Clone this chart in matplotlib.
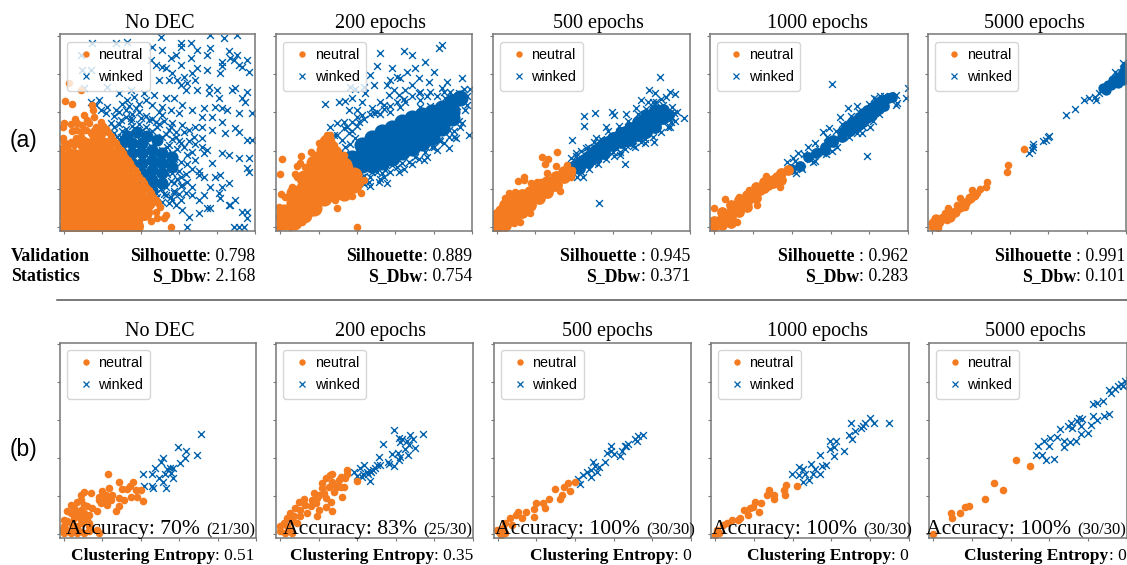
import matplotlib
matplotlib.use("Agg")
import matplotlib.pyplot as plt
from matplotlib.lines import Line2D

W, H = 1127, 565
ORANGE, BLUE = "#F47B20", "#0062AD"
SERIF, SANS = "Liberation Serif", "Liberation Sans"

epochs = ["No DEC", "200 epochs", "500 epochs", "1000 epochs", "5000 epochs"]

# *_core: the solid part of a cloud, where single marks can no longer be told apart.
a1_neutral_core = [(10,5),(45,5),(80,5),(115,5),(150,5),(185,5),(212,5),(5,40),(40,40),(75,40),(110,40),(145,40),(180,40),(215,40),(240,45),
(5,75),(40,75),(75,75),(110,75),(145,75),(180,75),(215,75),(250,75),(5,110),(40,110),(75,110),(110,110),(145,110),(180,110),(222,110),
(5,145),(40,145),(75,145),(110,145),(145,145),(180,145),(200,145),(5,180),(40,180),(75,180),(110,180),(145,180),(175,180),(5,198),
(30,210),(65,210),(100,210),(130,210),(150,210),(65,245),(95,245),(125,245),(100,280)]
a1_neutral = [(112,315),(118,305),(126,295),(132,285),(140,275),(148,262),(155,252),(162,242),(170,232),(177,222),(184,212),(191,202),(198,192),(205,182),(212,172),(219,162),(226,152),(233,142),(240,132),(247,122),(254,112),(261,102),(268,92),(275,82),(282,72),(288,62),
(3,378),(25,370),(85,367),(87,352),(90,330),(60,337),(70,322),(33,324),(40,312),(0,312),(-3,302),(20,309),(55,307),(75,312),(23,290),(35,292),(50,287),(65,292),(-3,267),(0,257),(20,257),(35,267),(50,272),(80,282),(95,302),(10,242),(30,247),(45,252),(60,262),(-5,237),(-5,222),(15,228),
(15,432),(50,412),(280,27),(300,27),(320,0),(305,37),(245,37),(275,47),(220,2),(225,22),(195,-3),(262,20)]
a1_winked_core = [(175,252),(175,222),(205,252),(205,222),(205,192),(205,162),(235,252),(235,222),(235,192),(235,162),(235,132),(265,232),(265,202),(265,172),(265,142),(265,112),(295,222),(295,192),(295,162),(295,132),(325,212),(325,182),(190,275),(220,285),(250,275),(280,262)]
a1_winked = [(290,570),(350,554),(380,554),(265,542),(295,532),(400,532),(350,542),(440,577),(480,567),(520,577),(495,530),(520,517),(500,507),(510,502),(475,497),(475,484),(550,502),(525,487),(440,537),(430,517),(380,507),(335,517),(320,507),(260,502),(275,487),(295,482),(350,487),(385,462),(400,477),(470,462),(430,472),(535,482),(555,467),(360,452),(325,462),(305,477),(285,442),(315,442),(340,442),(370,432),(395,442),(350,427),(435,422),(460,412),(505,412),(550,407),(515,417),(305,387),(330,387),(365,412),(400,412),(435,402),(465,387),(535,387),(545,377),(355,367),(385,352),(420,357),(455,362),(490,352),(525,342),(565,342),(475,357),(415,332),(445,332),(475,317),(515,297),(525,287),(550,262),(565,262),(485,282),(445,292),(415,302),(395,302),(375,292),(345,342),(320,352),(295,362),(270,397),(240,402),(200,412),(165,402),(210,392),(190,382),(105,382),(80,377),(130,362),(155,352),(185,352),(215,357),(245,382),(265,367),(295,337),(325,312),(355,307),(390,272),(415,267),(430,232),(420,222),(475,222),(495,217),(525,207),(555,207),(445,192),(395,202),(370,217),(350,252),(335,272),(315,292),(280,302),(255,322),(230,327),(200,327),(170,322),(140,312),(125,342),(110,352),(95,367),
(150,282),(170,272),(195,282),(220,292),(245,282),(275,262),(295,272),(315,247),(295,232),(265,237),(240,247),(215,257),(185,247),(170,247),(190,227),(215,232),(240,222),(265,212),(285,207),(305,217),(325,222),(200,207),(225,187),(250,197),(275,187),(300,192),(320,197),(210,187),(230,182),(255,172),(280,167),(305,167),(225,162),(245,152),(270,147),(295,147),(325,162),(260,127),(280,127),(305,122),(330,132),(350,152),(370,137),(385,122),(365,102),(385,97),(405,82),(455,152),(470,157),(405,157),(440,122),(420,97),(475,122),(495,132),(465,102),(275,102),(305,97),(330,102),(350,82),(295,77),(315,72),(335,67),(355,52),(375,32),(405,42),(440,57),(495,67),(515,82),(550,177),(555,167),(535,47),(550,27),(370,2),(510,0),(525,0),(540,0),(550,47),(500,67),(355,127),(325,82),(430,57),(470,87),
(85,552),(155,552),(190,557),(50,517),(55,472),(80,472),(130,422),(60,417),
(150,335),(165,345),(185,330),(205,340),(225,345),(245,335),(265,325),(285,345),(300,320),(320,300),(335,285),(150,300),(165,310),(185,295),(205,305),(225,310),(245,300),(265,290),(285,310),(305,280),(325,265),(345,260),(360,285),(375,260),(395,250),(415,240),(360,240),(385,225),(340,235),(330,205),(350,195),(370,190),(345,170),(365,160),(385,175),(405,170),(420,150),(340,145),(350,125),(320,140),(330,110),(300,100),(320,90),(345,100),(280,90),(290,115),(310,160),(305,190),(330,175),(225,235),(250,270),(275,315),(195,365),(225,370),(175,370),(200,320),(230,290),(160,270),(175,290),(190,270),(215,275),(240,265),(260,245),(280,260),(310,240),(325,195)]

a2_neutral_core = [(10,47),(10,17),(40,102),(40,72),(40,42),(40,17),(70,147),(70,117),(70,87),(70,57),(70,37),(100,192),(100,162),(100,132),(100,102),(100,72),(100,57),(130,232),(130,202),(130,172),(130,142),(130,112),(130,87),(160,222),(160,192),(160,162),(160,132),(160,102),(190,187),(190,157),(190,127),(190,102),(220,157),(220,127),(140,257)]
a2_neutral = [(5,204),(-2,160),(43,160),(3,99),(215,94),(243,102),(170,59),(165,82),(230,0),(93,227),(115,254),(125,254),(63,214),(50,184),(60,192),(150,277),(140,277),(145,262),(160,247),(-5,62),(-5,32),(-5,2),(215,122),(240,132),(250,142),(195,102),(30,2),(65,17),(95,47),(35,122),(50,152),(75,182),(105,217),(190,217),(205,182),(225,162),(15,92)]
a2_winked_core = [(215,207),(215,187),(245,247),(245,217),(245,187),(275,267),(275,237),(275,207),(275,187),(305,287),(305,257),(305,227),(305,197),(335,297),(335,267),(335,237),(335,207),(365,317),(365,287),(365,257),(365,227),(395,327),(395,297),(395,267),(395,237),(425,337),(425,307),(425,277),(425,252),(455,347),(455,317),(455,287),(455,272),(485,357),(485,327),(485,297),(515,377),(515,347),(515,327),(540,387)]
a2_winked = [(135,370),(150,300),(175,377),(195,380),(215,387),(205,352),(190,317),(170,312),(230,352),(245,377),(255,402),(270,457),(280,427),(290,484),(300,522),(370,530),(395,517),(475,537),(485,547),(435,497),(405,477),(380,467),(335,477),(330,442),(350,452),(360,447),(320,427),(300,377),(325,397),(355,397),(395,427),(415,447),(445,437),(460,467),(500,437),(545,447),(550,414),(570,414),(560,367),(520,337),(555,352),(545,312),(540,302),(565,277),(520,272),(527,267),(505,237),(440,212),(385,197),(355,167),(320,132),(295,137),(265,137),(245,152),(315,172),(170,277),(185,262),(160,277),(190,297),(215,317),(245,337),(275,357),(210,422),(225,414),(250,422),(415,402),(375,412),(485,417),(450,407),(510,407),(495,387),(280,342),(310,367),(340,412),(375,377),(420,382),(535,377),(505,292),(490,252),(470,232),(430,202),(365,192),(335,187),(385,227),(235,317),(205,282),(225,267),(520,327),(535,402),(525,352),(475,262),(455,242),(405,212),(305,162),(275,167),
(200,300),(215,290),(230,305),(250,325),(270,340),(290,345),(310,355),(330,365),(350,375),(370,385),(395,395),(420,405),(440,395),(470,395),(490,405),(515,395),(530,365),(545,385),(560,395),(250,155),(270,150),(290,165),(310,150),(330,165),(350,180),(370,175),(395,190),(415,205),(435,225),(460,240),(480,260),(505,270),(520,290),(535,320),(195,240),(210,250),(195,220),(185,205),(200,185),(215,165),(235,170),(250,130),(270,125),(300,145),(330,345),(360,360),(300,340),(230,330),(420,360),(450,365)]

a3_neutral_core = [(0,37),(0,17),(0,2),(25,67),(25,47),(25,27),(25,7),(50,87),(50,67),(50,47),(50,27),(75,97),(75,77),(75,57),(75,47),(100,107),(100,87),(100,67),(125,127),(125,107),(125,87),(150,137),(150,122),(150,107),(175,152),(175,127),(200,167),(200,152),(215,162),(12,50),(38,75),(62,92)]
a3_neutral = [(178,225),(135,212),(153,204),(142,190),(175,184),(210,187),(150,162),(82,152),(80,142),(62,139),(102,132),(35,102),(55,107),(188,110),(165,117),(100,42),(70,17),(100,62),(120,137),(130,137),(220,152),(225,172),(-5,32),(-5,2),(-10,17),(50,12),(20,72),(25,87)]
a3_winked_core = [(220,177),(245,192),(245,177),(270,212),(270,197),(295,232),(295,212),(320,252),(320,232),(320,222),(345,267),(345,247),(370,282),(370,257),(395,297),(395,277),(395,262),(420,317),(420,297),(420,277),(445,337),(445,317),(445,297),(445,287),(470,352),(470,332),(470,312),(470,302),(495,352),(495,327),(510,337),(232,185),(258,202),(282,222),(308,240),(332,257),(358,270),(382,285),(408,295),(432,310),(458,325),(482,340)]
a3_winked = [(485,450),(453,412),(470,402),(515,407),(530,399),(505,392),(557,327),(528,342),(518,317),(510,302),(260,334),(292,342),(343,347),(348,337),(383,340),(415,357),(430,382),(450,377),(260,304),(225,262),(325,302),(382,189),(305,74),(468,257),(440,252),(368,217),(368,227),(410,242),(240,152),(255,152),(270,192),(290,192),(315,212),(345,227),(265,237),(295,267),(235,222),(220,207),(515,342),(495,367),(475,377),(385,247),(430,257),(355,237),
(235,215),(250,230),(270,240),(290,255),(310,265),(330,290),(365,305),(390,320),(420,340),(445,355),(465,375),(490,385),(520,360),(535,345),(530,320),(515,300),(490,285),(465,270),(440,265),(405,245),(380,235),(350,215),(325,205),(300,190),(275,175),(250,165),(225,170),(240,195)]

a4_neutral_core = [(-2,19),(-2,5),(23,47),(23,27),(23,7),(48,67),(48,47),(48,27),(48,12),(73,82),(73,62),(73,47),(98,97),(98,77),(98,62),(123,122),(123,102),(123,87),(148,137),(148,117),(173,142),(173,132),(198,162),(198,142),(218,172),(35,37),(60,57),(85,72),(110,92),(135,112),(160,127),(186,150),(10,12)]
a4_neutral = [(33,84),(-2,57),(153,155),(195,120),(128,67),(73,92),(68,17),(103,112)]
a4_winked_core = [(228,175),(253,185),(278,210),(303,222),(328,242),(328,232),(353,262),(353,255),(378,287),(378,270),(403,310),(403,290),(428,332),(428,307),(453,352),(453,327),(478,367),(478,345),(503,382),(503,364),(528,392),(390,300),(415,320),(415,297),(440,342),(440,317),(465,358),(465,335),(490,375),(490,355),(515,388),(340,255)]
a4_winked = [(349,430),(570,389),(576,417),(453,214),(538,367),(543,372),(373,330),(396,357),(423,364),(473,387),(493,394),(538,397),(323,287),(341,297),(298,252),(278,242),(233,207),(248,222),(293,197),(243,162),(463,302),(438,282),(423,282),(323,222),(348,230),(258,182),
(215,195),(240,200),(265,220),(285,205),(310,235),(335,270),(360,290),(380,310),(405,335),(430,345),(460,370),(480,385),(505,395),(520,390),(470,320),(490,340),(440,300),(400,270),(365,240),(330,220),(300,200),(260,175)]

a5_neutral_core = [(3,12),(18,12),(33,27),(53,32),(68,47),(83,62),(98,72),(113,87),(123,97),(10,25)]
a5_neutral = [(272,234),(224,186),(222,167),(162,137),(159,122),(141,115),(118,112),(83,87),(46,59),(-2,2),(3,17),(13,7),(23,17),(28,27),(43,22),(58,37),(68,47),(78,57),(93,72),(108,82),(123,97),(133,102),(73,67),(98,62),(3,2),(18,-3),(38,42),(53,47),(8,27)]
a5_winked_core = [(508,417),(523,427),(538,442),(553,452),(568,467),(568,442),(553,432),(533,427),(518,412),(573,482)]
a5_winked = [(398,337),(425,355),(450,382),(465,389),(483,392),(488,382),(496,402),(343,270),(348,274),(328,260),(338,262),(288,224),(296,232),(301,240),(301,250),(543,467),(568,492)]

b1_neutral = [(132,180),(208,158),(165,156),(135,140),(197,146),(175,136),(190,136),(215,133),(230,133),(113,130),(60,128),(80,125),(50,118),(105,113),(125,118),(145,118),(165,110),(180,103),(200,113),(220,113),(237,100),(105,103),(125,98),(140,103),(165,83),(155,68),(100,68),(85,78),(40,98),(50,103),(60,88),(70,83),(20,86),(30,78),(10,68),(20,63),(35,68),(45,58),(60,63),(75,58),(30,48),(50,43),(70,48),(10,38),(0,43),(20,33),(40,23),(55,33),(75,23),(0,23),(10,13),(-5,13),(25,13),(45,8),(75,8),(100,13),(0,3),(20,3),(40,3),(60,3),(105,3),(120,108),(130,88),(110,93),(50,73),(60,48),(75,33)]
b1_winked = [(410,302),(343,263),(365,250),(397,239),(362,231),(298,230),(290,218),(349,215),(274,199),(326,201),(318,199),(310,195),(304,182),(237,182),(265,182),(322,183),(327,170),(285,170),(297,158),(240,144),(263,146),(266,140),(307,138)]
b2_neutral = [(228,160),(198,193),(200,180),(147,178),(155,180),(180,173),(193,168),(175,163),(135,168),(155,158),(125,153),(190,143),(170,143),(145,143),(125,138),(100,123),(115,118),(130,123),(160,128),(185,113),(150,98),(135,108),(110,108),(95,103),(72,105),(55,96),(75,88),(105,93),(135,80),(155,70),(115,73),(90,83),(60,73),(80,63),(45,78),(30,63),(40,53),(60,53),(110,53),(20,48),(35,40),(50,33),(10,33),(0,23),(20,23),(30,13),(0,8),(15,3),(35,3),(165,146),(180,143)]
b2_winked = [(339,314),(425,303),(387,298),(395,288),(355,290),(363,288),(358,278),(378,280),(307,273),(385,268),(403,260),(373,258),(294,232),(333,243),(352,246),(380,238),(356,233),(353,223),(322,218),(325,211),(338,205),(298,208),(287,208),(282,201),(249,208),(220,188),(237,198),(278,193),(268,190),(258,186),(248,180),(230,176),(243,173),(262,180),(268,160),(270,186)]
b3_neutral = [(231,157),(209,155),(196,142),(215,129),(184,107),(169,135),(152,107),(134,92),(115,95),(109,75),(140,77),(84,67),(109,52),(59,67),(53,57),(35,47),(72,47),(22,32),(41,27),(4,7),(16,17),(22,2),(10,-3),(-2,12),(190,117)]
b3_winked = [(432,300),(417,297),(409,287),(388,272),(379,265),(338,267),(326,245),(345,242),(363,237),(338,252),(320,217),(283,219),(289,207),(301,202),(295,187),(276,192),(264,187),(252,177),(276,172),(246,152),(240,167),(382,267),(413,282),(370,252)]
b4_neutral = [(242,144),(211,149),(205,132),(208,117),(176,117),(161,132),(155,117),(174,107),(136,92),(118,97),(112,82),(87,72),(130,67),(99,57),(74,47),(50,42),(37,32),(25,27),(6,12),(12,2),(0,-3),(68,42),(105,77)]
b4_winked = [(515,336),(459,352),(446,337),(440,327),(471,335),(403,335),(434,322),(415,312),(397,299),(406,287),(360,280),(341,282),(353,262),(341,257),(353,237),(382,250),(310,239),(329,210),(316,207),(285,212),(298,197),(248,202),(229,182),(248,177),(267,182),(291,182),(310,182),(279,162),(260,157),(260,197)]
b5_neutral = [(247,224),(287,206),(182,155),(207,134),(154,105),(107,84),(96,82),(81,64),(53,64),(56,49),(0,0)]
b5_winked = [(580,467),(568,462),(558,455),(548,447),(538,440),(528,427),(521,437),(503,402),(485,397),(473,394),(521,362),(508,357),(473,357),(485,345),(468,329),(458,304),(438,302),(423,282),(405,277),(388,262),(388,282),(433,352),(443,347),(428,342),(408,337),(400,327),(413,322),(378,317),(368,292),(346,289),(330,282),(343,267),(311,265),(305,240),(323,240),(334,225),(360,226),(438,327),(578,452),(563,449)]

neutral_a = [a1_neutral, a2_neutral, a3_neutral, a4_neutral, a5_neutral]
neutral_core_a = [a1_neutral_core, a2_neutral_core, a3_neutral_core, a4_neutral_core, a5_neutral_core]
winked_a = [a1_winked, a2_winked, a3_winked, a4_winked, a5_winked]
winked_core_a = [a1_winked_core, a2_winked_core, a3_winked_core, a4_winked_core, a5_winked_core]
neutral_b = [b1_neutral, b2_neutral, b3_neutral, b4_neutral, b5_neutral]
winked_b = [b1_winked, b2_winked, b3_winked, b4_winked, b5_winked]

silhouette_names = ["Silhouette", "Silhouette", "Silhouette ", "Silhouette ", "Silhouette "]
silhouette_values = ["0.798", "0.889", "0.945", "0.962", "0.991"]
s_dbw = ["2.168", "0.754", "0.371", "0.283", "0.101"]
accuracy = ["70%", "83%", "100%", "100%", "100%"]
counts = ["(21/30)", "(25/30)", "(30/30)", "(30/30)", "(30/30)"]
entropy = ["0.51", "0.35", "0", "0", "0"]

core_sizes_a = [(150, 75), (135, 135), (85, 85), (60, 60), (55, 55)]

# layout, in pixels
lefts_a = [59.5, 276, 492.5, 710, 928]
rights_a = [255.5, 472, 690, 908, 1125.5]
lefts_b = [59.5, 276, 493.5, 710.5, 928.5]
rights_b = [256, 473, 691, 909, 1127]
title_x_a = [160, 380.5, 598.5, 817, 1034]
title_x_b = [160, 380.5, 607, 817, 1035]
acc_right = [255, 472, 695, 912, 1126]
ent_right = [254.5, 473, 692, 909, 1126.5]

fig = plt.figure(figsize=(W / 100, H / 100), dpi=100)
renderer = fig.canvas.get_renderer()


def px_text(x, y, s, **kw):
    return fig.text(x / W, 1 - y / H, s, va="baseline", **kw)


def joined(right, y, regular, bold=None, big=None, size=12.5):
    """Right-aligned line: a bold or larger lead followed by a regular tail."""
    t = px_text(right, y, regular, ha="right", family=SERIF, fontsize=size)
    x0 = t.get_window_extent(renderer).x0
    if bold:
        px_text(x0, y, bold, ha="right", family=SERIF, fontsize=size, fontweight="bold")
    if big:
        px_text(x0 - 6, y, big, ha="right", family=SERIF, fontsize=15.6)


def panel(l, r, t, b, neutral, winked, n_core=None, w_core=None, sizes=(150, 150)):
    ax = fig.add_axes([l / W, 1 - b / H, (r - l) / W, (b - t) / H])
    if w_core:
        ax.scatter(*zip(*w_core), s=sizes[1], color=BLUE, linewidths=0)
    ax.scatter(*zip(*winked), s=24, marker="x", color=BLUE, linewidths=1.0)
    if n_core:
        ax.scatter(*zip(*n_core), s=sizes[0], color=ORANGE, linewidths=0)
    ax.scatter(*zip(*neutral), s=30, color=ORANGE, linewidths=0)
    ax.set_xlim(-13, 575)
    ax.set_ylim(-11, 579)
    ax.set_xticks(range(0, 576, 115))
    ax.set_yticks(range(0, 576, 115))
    ax.tick_params(labelbottom=False, labelleft=False, length=2.5, width=0.8, color="#777777")
    for sp in ax.spines.values():
        sp.set_color("#777777")
        sp.set_linewidth(1.1)
    handles = [Line2D([], [], ls="", marker="o", ms=4.6, mew=0, color=ORANGE),
               Line2D([], [], ls="", marker="x", ms=3.8, mew=0.9, color=BLUE)]
    ax.legend(handles, ["neutral", "winked"], loc="upper left",
              prop={"family": SANS, "size": 10.4}, handlelength=1.75, handletextpad=0,
              borderpad=0.45, labelspacing=0.55, numpoints=1)
    return ax


for i in range(5):
    panel(lefts_a[i], rights_a[i], 34.5, 231, neutral_a[i], winked_a[i],
          neutral_core_a[i], winked_core_a[i], core_sizes_a[i])
    panel(lefts_b[i], rights_b[i], 342.7, 537.5, neutral_b[i], winked_b[i])

    px_text(title_x_a[i], 28, epochs[i], ha="center", family=SERIF, fontsize=14.5)
    px_text(title_x_b[i], 336, epochs[i], ha="center", family=SERIF, fontsize=14.5)

    joined(rights_a[i], 261, ": " + silhouette_values[i], bold=silhouette_names[i], size=12.8)
    joined(rights_a[i], 281, ": " + s_dbw[i], bold="S_Dbw", size=12.8)
    joined(ent_right[i], 560, ": " + entropy[i], bold="Clustering Entropy")
    joined(acc_right[i], 534, counts[i], big="Accuracy: " + accuracy[i], size=12)

px_text(11, 261, "Validation", family=SERIF, fontsize=12.9, fontweight="bold")
px_text(11, 281, "Statistics", family=SERIF, fontsize=12.9, fontweight="bold")
px_text(10, 147, "(a)", family=SANS, fontsize=16.5)
px_text(10, 456, "(b)", family=SANS, fontsize=16.5)
fig.add_artist(Line2D([57 / W, 1127 / W], [1 - 300 / H, 1 - 300 / H], color="#555555", lw=1.1))

fig.savefig("out.png", dpi=100)
